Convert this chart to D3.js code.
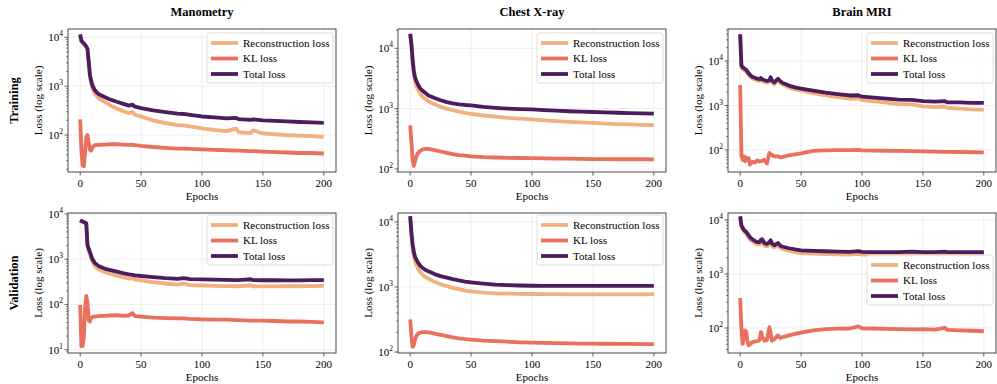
<!DOCTYPE html>
<html>
<head>
<meta charset="utf-8">
<script src="https://cdn.jsdelivr.net/npm/d3@7"></script>
<style>
  body { margin: 0; background: #fff; }
  text { font-family: "Liberation Serif", "Times New Roman", serif; fill: #000; }
</style>
</head>
<body>
<script>
// columns / rows / series
const datasets = ["Manometry", "Chest X-ray", "Brain MRI"];
const phases = ["Training", "Validation"];
const seriesNames = ["Reconstruction loss", "KL loss", "Total loss"];
const xTicks = [0, 50, 100, 150, 200];

// Manometry
const manoEpochs = [0,1,2,3,4,5,6,7,8,9,10,12,15,20,25,30,35,40,43,45,50,60,70,80,85,90,100,110,120,128,130,140,142,150,160,170,180,190,200];
const manoTrainRecon = [11000,8000,7700,7200,6900,6300,5500,3000,1600,1150,900,700,570,480,400,350,310,280,295,260,240,200,175,160,158,150,137,128,120,135,115,110,125,108,104,100,97,95,92];
const manoTrainKL = [210,50,24,23,45,90,100,70,50,48,56,62,63,64,65,65,64,63,64,62,60,57,55,53,53,52,51,50,49,48,48,47,47,46,45,44,43,43,42];
const manoTrainTotal = [11500,8500,8000,7500,7000,6500,5800,3200,1700,1300,1050,830,690,600,530,480,440,400,420,380,355,320,295,275,270,260,240,230,220,225,212,205,210,200,195,190,185,182,178];
const manoValRecon = [7000,6800,6600,6400,6200,6000,1900,1550,1300,1050,880,700,600,520,470,430,400,370,380,355,340,310,290,275,290,268,262,258,255,252,252,262,252,250,250,252,252,255,258];
const manoValKL = [97,12,12,19,80,155,110,45,42,50,53,54,55,56,57,58,56,57,64,55,54,51,50,49,49,48,47,46,46,45,45,44,44,44,43,42,42,41,40];
const manoValTotal = [7300,7000,6800,6600,6400,6200,2050,1700,1450,1200,1000,830,710,620,570,530,490,460,450,440,425,400,380,368,380,362,358,352,350,345,345,360,345,342,342,340,340,345,345];

// Chest X-ray
const chestEpochs = [0,1,2,3,4,5,6,8,10,12,15,20,25,30,35,40,45,50,60,70,80,90,100,110,120,130,140,150,160,170,180,190,200];
const chestTrainRecon = [16500,11000,5800,3700,2800,2400,2150,1800,1600,1470,1320,1180,1070,1000,940,890,850,820,770,735,705,685,665,640,620,605,590,580,565,555,548,540,532];
const chestTrainKL = [530,280,140,113,135,160,178,198,210,215,215,205,195,185,177,170,166,162,157,155,153,152,151,150,149,148,147,146,146,145,145,145,144];
const chestTrainTotal = [17400,12000,6500,4200,3300,2900,2600,2200,2000,1850,1650,1500,1380,1280,1220,1180,1150,1130,1070,1030,1000,985,970,945,925,905,890,880,865,855,845,835,825];
const chestValRecon = [11500,6300,3900,3000,2450,2200,2000,1720,1560,1450,1340,1200,1100,1030,970,930,880,855,820,800,790,785,780,778,775,772,770,770,770,772,770,772,775];
const chestValKL = [318,180,120,128,155,175,188,198,203,203,200,192,183,176,168,162,158,155,150,147,144,141,139,138,137,136,135,135,134,133,133,132,132];
const chestValTotal = [12300,7000,4500,3500,2900,2650,2450,2150,1980,1860,1740,1580,1470,1390,1320,1260,1210,1180,1130,1090,1070,1055,1045,1040,1040,1040,1040,1040,1038,1040,1040,1040,1040];

// Brain MRI
const brainEpochs = [0,1,2,3,4,5,6,7,8,10,12,14,16,17,18,20,22,24,25,26,28,31,33,35,40,45,50,60,70,80,90,97,100,110,120,130,141,150,160,168,170,180,190,200];
const brainTrainRecon = [37000,7200,6600,6300,6000,5700,5300,4900,4500,4050,3850,3650,3550,3800,3550,3400,3250,3400,3900,3350,3000,3650,3200,2950,2550,2300,2150,1900,1700,1550,1420,1450,1320,1240,1160,1080,1060,960,920,950,880,850,820,800];
const brainTrainKL = [2900,78,60,72,56,68,60,65,47,54,52,58,55,56,57,60,50,86,80,78,72,72,68,70,76,80,84,95,98,99,99,100,98,97,96,95,94,93,92,91,91,90,89,88];
const brainTrainTotal = [40000,8000,7200,6900,6600,6300,5800,5300,4900,4400,4200,4000,3900,4150,3900,3700,3550,3700,4300,3700,3300,4000,3500,3200,2800,2550,2400,2150,1950,1800,1680,1700,1580,1500,1430,1350,1340,1260,1220,1250,1180,1170,1150,1150];
const brainValRecon = [11000,7400,6700,6100,5800,5500,5100,4700,4350,4000,3750,3550,3550,3900,4000,3350,3250,3550,3800,3350,3100,3400,3050,2900,2700,2550,2450,2380,2340,2310,2290,2350,2280,2280,2280,2280,2320,2280,2280,2320,2280,2280,2280,2280];
const brainValKL = [360,97,51,68,90,85,55,48,50,55,56,57,60,84,70,58,60,104,80,58,62,73,65,68,73,78,82,90,95,97,98,107,99,98,96,95,94,95,93,101,92,90,89,87];
const brainValTotal = [11800,8000,7200,6600,6300,6000,5600,5200,4800,4400,4100,3900,3900,4300,4400,3700,3600,3900,4200,3700,3400,3750,3350,3200,3000,2850,2750,2680,2640,2600,2570,2650,2560,2550,2550,2550,2600,2550,2550,2600,2550,2550,2550,2550];

// y limits as log10 exponents [bottom, top]
const yLimits = [
  [[1.245, 4.169], [1.95, 4.32], [1.505, 4.72]],
  [[0.927, 4.02], [1.985, 4.138], [1.537, 4.13]]
];

const colors = ["#f2b07e", "#e8705c", "#4b1c5e"];

const W = 997, H = 384;
const colLeft = [68, 398, 728];
const axW = 268;
const rowTop = [29, 213];
const rowBottom = [172, 353];

const panels = [
  { row: 0, col: 0, x: manoEpochs, ys: [manoTrainRecon, manoTrainKL, manoTrainTotal], legendDy: 4 },
  { row: 0, col: 1, x: chestEpochs, ys: [chestTrainRecon, chestTrainKL, chestTrainTotal], legendDy: 4 },
  { row: 0, col: 2, x: brainEpochs, ys: [brainTrainRecon, brainTrainKL, brainTrainTotal], legendDy: 4 },
  { row: 1, col: 0, x: manoEpochs, ys: [manoValRecon, manoValKL, manoValTotal], legendDy: 2 },
  { row: 1, col: 1, x: chestEpochs, ys: [chestValRecon, chestValKL, chestValTotal], legendDy: 2 },
  { row: 1, col: 2, x: brainEpochs, ys: [brainValRecon, brainValKL, brainValTotal], legendDy: 42 }
];

const svg = d3.select("body").append("svg")
  .attr("width", W).attr("height", H)
  .attr("viewBox", `0 0 ${W} ${H}`);

const drawPanel = function (p) {
  const left = colLeft[p.col], right = left + axW;
  const top = rowTop[p.row], bottom = rowBottom[p.row];
  const lim = yLimits[p.row][p.col];

  const x = d3.scaleLinear().domain([-10, 210]).range([left, right]);
  const y = d3.scaleLog().domain([Math.pow(10, lim[0]), Math.pow(10, lim[1])]).range([bottom, top]);

  const g = svg.append("g");

  // grid
  const majors = d3.range(Math.ceil(lim[0]), Math.floor(lim[1]) + 1);
  g.selectAll(".gx").data(xTicks).join("line")
    .attr("x1", d => x(d)).attr("x2", d => x(d))
    .attr("y1", top).attr("y2", bottom)
    .attr("stroke", "#ebebeb").attr("stroke-width", 0.8);
  g.selectAll(".gy").data(majors).join("line")
    .attr("x1", left).attr("x2", right)
    .attr("y1", d => y(Math.pow(10, d))).attr("y2", d => y(Math.pow(10, d)))
    .attr("stroke", "#ebebeb").attr("stroke-width", 0.8);

  // lines
  const line = d3.line()
    .x((d, i) => x(p.x[i]))
    .y(d => y(d));
  p.ys.forEach(function (vals, k) {
    g.append("path")
      .datum(vals)
      .attr("fill", "none")
      .attr("stroke", colors[k])
      .attr("stroke-width", 3.8)
      .attr("stroke-linejoin", "round")
      .attr("stroke-linecap", "butt")
      .attr("d", line);
  });

  // frame
  g.append("rect")
    .attr("x", left).attr("y", top)
    .attr("width", axW).attr("height", bottom - top)
    .attr("fill", "none").attr("stroke", "#333").attr("stroke-width", 0.9);

  // x ticks
  g.selectAll(".xt").data(xTicks).join("line")
    .attr("x1", d => x(d)).attr("x2", d => x(d))
    .attr("y1", bottom).attr("y2", bottom + 3.5)
    .attr("stroke", "#333").attr("stroke-width", 0.8);
  g.selectAll(".xl").data(xTicks).join("text")
    .attr("x", d => x(d)).attr("y", bottom + 14.5)
    .attr("text-anchor", "middle").attr("font-size", 11)
    .text(d => d);

  // y ticks: major + minor
  const minors = [];
  for (let k = Math.floor(lim[0]); k <= Math.ceil(lim[1]); k++) {
    for (let m = 2; m <= 9; m++) {
      const v = m * Math.pow(10, k);
      if (Math.log10(v) >= lim[0] && Math.log10(v) <= lim[1]) minors.push(v);
    }
  }
  g.selectAll(".ymn").data(minors).join("line")
    .attr("x1", left - 2).attr("x2", left)
    .attr("y1", d => y(d)).attr("y2", d => y(d))
    .attr("stroke", "#333").attr("stroke-width", 0.6);
  g.selectAll(".ymj").data(majors).join("line")
    .attr("x1", left - 3.5).attr("x2", left)
    .attr("y1", d => y(Math.pow(10, d))).attr("y2", d => y(Math.pow(10, d)))
    .attr("stroke", "#333").attr("stroke-width", 0.8);
  const yl = g.selectAll(".yl").data(majors).join("text")
    .attr("x", left - 5).attr("y", d => y(Math.pow(10, d)) + 4)
    .attr("text-anchor", "end").attr("font-size", 11);
  yl.append("tspan").text("10");
  yl.append("tspan").attr("dy", -5).attr("font-size", 7.5).text(d => d);

  // axis labels
  g.append("text")
    .attr("transform", `translate(${left - 30},${(top + bottom) / 2}) rotate(-90)`)
    .attr("text-anchor", "middle").attr("dy", "0.32em")
    .attr("font-size", 11).text("Loss (log scale)");
  g.append("text")
    .attr("x", (left + right) / 2).attr("y", bottom + 28)
    .attr("text-anchor", "middle").attr("font-size", 11).text("Epochs");

  // legend
  const lx = right - 129, ly = top + p.legendDy;
  const lg = g.append("g");
  lg.append("rect")
    .attr("x", lx).attr("y", ly).attr("width", 126).attr("height", 50)
    .attr("rx", 2).attr("fill", "#fff").attr("fill-opacity", 0.8)
    .attr("stroke", "#d6d6d6").attr("stroke-width", 0.8);
  seriesNames.forEach(function (name, k) {
    const yy = ly + 10 + k * 15.5;
    lg.append("line")
      .attr("x1", lx + 4).attr("x2", lx + 31)
      .attr("y1", yy).attr("y2", yy)
      .attr("stroke", colors[k]).attr("stroke-width", 3.8);
    lg.append("text")
      .attr("x", lx + 36).attr("y", yy + 3.8)
      .attr("font-size", 11).text(name);
  });
};

panels.forEach(drawPanel);

// column titles
datasets.forEach(function (name, c) {
  svg.append("text")
    .attr("x", colLeft[c] + axW / 2).attr("y", 16)
    .attr("text-anchor", "middle").attr("font-size", 12.5).attr("font-weight", "bold")
    .text(name);
});

// row labels
phases.forEach(function (name, r) {
  svg.append("text")
    .attr("transform", `translate(14,${(rowTop[r] + rowBottom[r]) / 2}) rotate(-90)`)
    .attr("text-anchor", "middle").attr("dy", "0.35em")
    .attr("font-size", 12.5).attr("font-weight", "bold")
    .text(name);
});
</script>
</body>
</html>
